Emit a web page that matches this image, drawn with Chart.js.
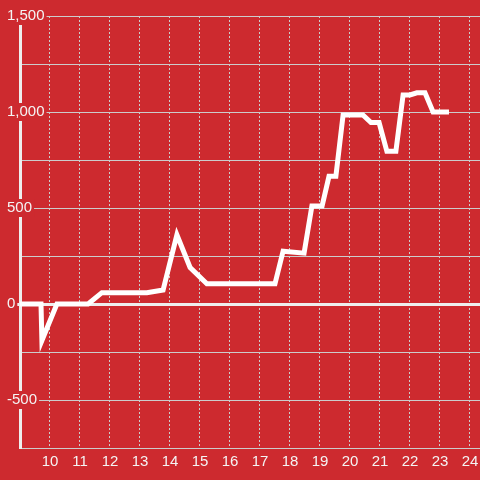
<!DOCTYPE html>
<html>
<head>
<meta charset="utf-8">
<script src="https://cdn.jsdelivr.net/npm/chart.js@4"></script>
<style>
  html, body { margin: 0; padding: 0; background: #cd2a2f; }
  #wrap { width: 480px; height: 480px; }
</style>
</head>
<body>
<div id="wrap"><canvas id="chart"></canvas></div>
<script>
const hours = [9.0, 9.7, 9.73, 10.23, 11.27, 11.73, 13.23, 13.77, 14.23, 14.67, 15.23, 17.5, 17.77, 18.47, 18.73,
  19.07, 19.3, 19.53, 19.77, 20.43, 20.7, 20.97, 21.23, 21.53, 21.77, 22.0, 22.23, 22.5, 22.77, 23.3];
const values = [0, 0, -190, 0, 0, 59, 59, 73, 360, 190, 105, 105, 275, 265, 510,
  510, 665, 665, 985, 985, 945, 945, 795, 795, 1089, 1089, 1100, 1100, 1000, 1000];
const xTicks = [10, 11, 12, 13, 14, 15, 16, 17, 18, 19, 20, 21, 22, 23, 24];
const yTicks = [-750, -500, -250, 0, 250, 500, 750, 1000, 1250, 1500];

const bg = '#cd2a2f';
const gridGray = '#cccccc';
const textColor = '#f4f4f4';
const labelled = v => v % 500 === 0;

const chart = new Chart(document.getElementById('chart'), {
  type: 'line',
  data: {
    datasets: [{
      data: hours.map((h, i) => ({ x: h, y: values[i] })),
      borderColor: '#ffffff',
      borderWidth: 5,
      pointRadius: 0,
      tension: 0
    }]
  },
  options: {
    responsive: true,
    maintainAspectRatio: false,
    animation: false,
    events: [],
    layout: { padding: { top: 16 } },
    plugins: { legend: { display: false }, tooltip: { enabled: false } },
    scales: {
      x: {
        type: 'linear',
        min: 9,
        max: 24.334,
        afterBuildTicks: s => { s.ticks = xTicks.map(v => ({ value: v })); },
        afterFit: s => { s.height = 32; s.paddingLeft = 0; s.paddingRight = 0; },
        grid: { color: gridGray, lineWidth: 1, drawTicks: false },
        border: { display: true, color: gridGray, width: 1, dash: [2, 2] },
        ticks: { color: textColor, padding: 5, font: { family: 'Liberation Sans', size: 15 } }
      },
      y: {
        min: -750,
        max: 1500,
        afterBuildTicks: s => { s.ticks = yTicks.map(v => ({ value: v })); },
        afterFit: s => { s.width = 20; },
        grid: {
          color: c => c.tick && c.tick.value === 0 ? '#eeeeee' : gridGray,
          lineWidth: c => c.tick && c.tick.value === 0 ? 3 : 1,
          drawTicks: true,
          tickLength: 20,
          tickColor: c => c.tick && labelled(c.tick.value) ? (c.tick.value === 0 ? '#eeeeee' : gridGray) : 'rgba(0,0,0,0)',
          tickWidth: c => c.tick && c.tick.value === 0 ? 3 : 1
        },
        border: { display: true, color: '#eeeeee', width: 3 },
        ticks: {
          mirror: true,
          crossAlign: 'near',
          padding: -13,
          color: textColor,
          font: { family: 'Liberation Sans', size: 15 },
          showLabelBackdrop: c => c.tick && labelled(c.tick.value),
          backdropColor: bg,
          backdropPadding: { top: 0, bottom: 0, left: 8, right: 2 },
          callback: v => labelled(v) ? v.toLocaleString('en-US') : ''
        }
      }
    }
  }
});
</script>
</body>
</html>
